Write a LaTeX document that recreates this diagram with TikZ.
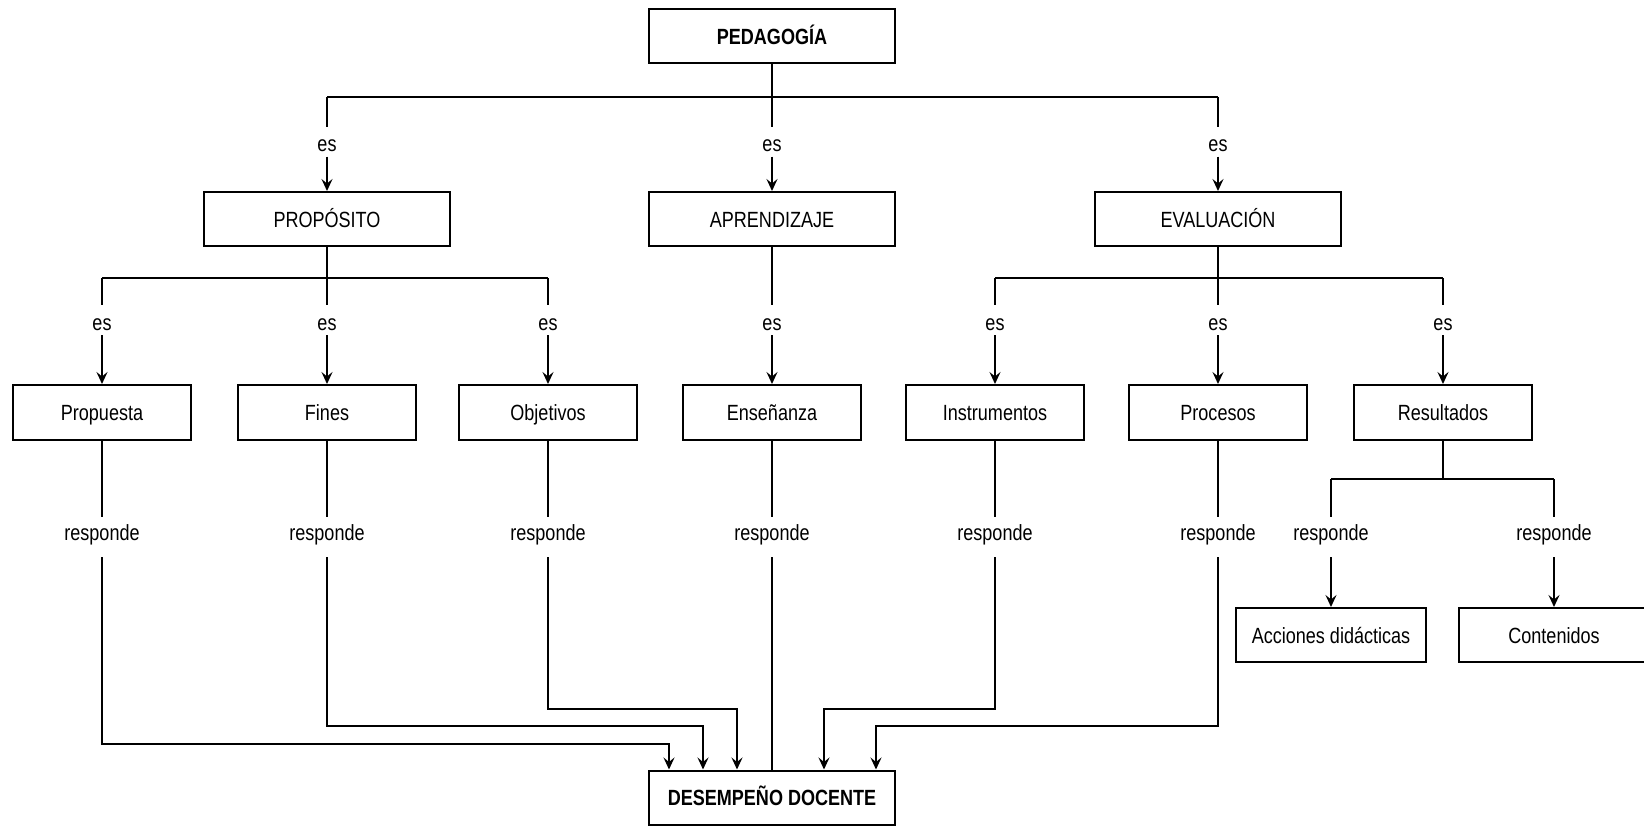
\documentclass[tikz,border=0pt]{standalone}
\usepackage{fontspec}
\setmainfont[FakeStretch=0.82]{Liberation Sans}
\usetikzlibrary{arrows.meta}

\begin{document}
\begin{tikzpicture}[x=1pt,y=-1pt,line width=2pt,
  txt/.style={font=\fontsize{22}{26}\selectfont},
  box/.style={txt,draw,minimum width=178pt,minimum height=55pt,inner sep=0pt,
              text height=16pt,text depth=0pt},
  bigbox/.style={box,minimum width=246pt,minimum height=54pt},
  leafbox/.style={box,minimum width=190pt,minimum height=54pt},
  eslab/.style={txt,inner sep=0pt,text height=24pt,text depth=4pt,anchor=base},
  reslab/.style={txt,inner sep=0pt,text height=22pt,text depth=16pt,anchor=base},
  arr/.style={-{Stealth[length=12pt,width=11pt,inset=4.5pt]}},
]
\useasboundingbox (0,0) rectangle (1644,825);

% top level
\node[bigbox,font=\fontsize{22}{26}\selectfont\bfseries] (ped) at (772,36) {PEDAGOGÍA};

% second level
\node[bigbox] (prop) at (327,219)  {PROPÓSITO};
\node[bigbox] (apr)  at (772,219)  {APRENDIZAJE};
\node[bigbox] (eva)  at (1218,219) {EVALUACIÓN};

% third level
\node[box] (pro) at (102,412.5)  {Propuesta};
\node[box] (fin) at (327,412.5)  {Fines};
\node[box] (obj) at (548,412.5)  {Objetivos};
\node[box] (ens) at (772,412.5)  {Enseñanza};
\node[box] (ins) at (995,412.5)  {Instrumentos};
\node[box] (prc) at (1218,412.5) {Procesos};
\node[box] (res) at (1443,412.5) {Resultados};

% leaves of Resultados
\node[leafbox] (acc) at (1331,635) {Acciones didácticas};
\node[leafbox] (con) at (1554,635) {Contenidos};

% bottom
\node[bigbox,font=\fontsize{22}{26}\selectfont\bfseries] (des) at (772,797.5) {DESEMPEÑO DOCENTE};

% ---- PEDAGOGÍA -> second level
\coordinate (a1) at (327,97);
\coordinate (a2) at (772,97);
\coordinate (a3) at (1218,97);
\draw (ped.south) -- (a2);
\draw (a1) -- (a3);
\node[eslab] (e1) at (327,151.7)  {es};
\node[eslab] (e2) at (772,151.7)  {es};
\node[eslab] (e3) at (1218,151.7) {es};
\draw (a1) -- (e1.north); \draw[arr] (e1.south) -- (prop.north);
\draw (a2) -- (e2.north); \draw[arr] (e2.south) -- (apr.north);
\draw (a3) -- (e3.north); \draw[arr] (e3.south) -- (eva.north);

% ---- second level -> third level
\coordinate (b1) at (102,278);
\coordinate (b2) at (327,278);
\coordinate (b3) at (548,278);
\coordinate (b5) at (995,278);
\coordinate (b6) at (1218,278);
\coordinate (b7) at (1443,278);
\draw (prop.south) -- (b2);
\draw (b1) -- (b3);
\draw (eva.south) -- (b6);
\draw (b5) -- (b7);
\node[eslab] (s1) at (102,330)  {es};
\node[eslab] (s2) at (327,330)  {es};
\node[eslab] (s3) at (548,330)  {es};
\node[eslab] (s4) at (772,330)  {es};
\node[eslab] (s5) at (995,330)  {es};
\node[eslab] (s6) at (1218,330) {es};
\node[eslab] (s7) at (1443,330) {es};
\draw (b1) -- (s1.north); \draw[arr] (s1.south) -- (pro.north);
\draw (b2) -- (s2.north); \draw[arr] (s2.south) -- (fin.north);
\draw (b3) -- (s3.north); \draw[arr] (s3.south) -- (obj.north);
\draw (apr.south) -- (s4.north); \draw[arr] (s4.south) -- (ens.north);
\draw (b5) -- (s5.north); \draw[arr] (s5.south) -- (ins.north);
\draw (b6) -- (s6.north); \draw[arr] (s6.south) -- (prc.north);
\draw (b7) -- (s7.north); \draw[arr] (s7.south) -- (res.north);

% ---- responde labels
\node[reslab] (r1) at (102,540)  {responde};
\node[reslab] (r2) at (327,540)  {responde};
\node[reslab] (r3) at (548,540)  {responde};
\node[reslab] (r4) at (772,540)  {responde};
\node[reslab] (r5) at (995,540)  {responde};
\node[reslab] (r6) at (1218,540) {responde};
\node[reslab] (r7) at (1331,540) {responde};
\node[reslab] (r8) at (1554,540) {responde};
\draw (pro.south) -- (r1.north);
\draw (fin.south) -- (r2.north);
\draw (obj.south) -- (r3.north);
\draw (ens.south) -- (r4.north);
\draw (ins.south) -- (r5.north);
\draw (prc.south) -- (r6.north);

% Resultados branches to its two leaves
\coordinate (c7) at (1331,479);
\coordinate (c8) at (1554,479);
\coordinate (cm) at (1443,479);
\draw (res.south) -- (cm);
\draw (c7) -- (c8);
\draw (c7) -- (r7.north); \draw[arr] (r7.south) -- (acc.north);
\draw (c8) -- (r8.north); \draw[arr] (r8.south) -- (con.north);

% ---- all responde paths converge on DESEMPEÑO DOCENTE
\coordinate (k1) at (669,744);
\coordinate (k2) at (703,726);
\coordinate (k3) at (737,709);
\coordinate (k5) at (824,709);
\coordinate (k6) at (876,726);
\draw[arr] (r1.south) |- (k1) -- (k1 |- des.north);
\draw[arr] (r2.south) |- (k2) -- (k2 |- des.north);
\draw[arr] (r3.south) |- (k3) -- (k3 |- des.north);
\draw (r4.south) -- (r4.south |- des.north);
\draw[arr] (r5.south) |- (k5) -- (k5 |- des.north);
\draw[arr] (r6.south) |- (k6) -- (k6 |- des.north);
\end{tikzpicture}
\end{document}
